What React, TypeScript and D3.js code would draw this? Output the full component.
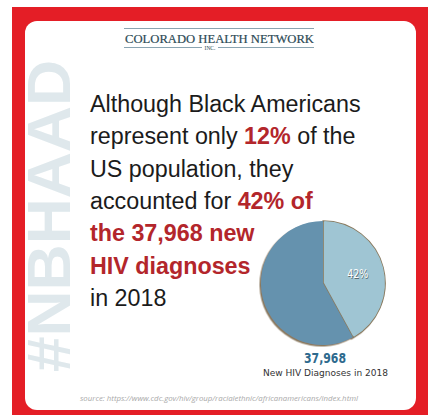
import * as d3 from 'd3';
import { useEffect, useRef } from 'react';

// pie data
const sliceNames = ['Black Americans', 'Everyone else'];
const sliceShares = [42, 58];
const totalDiagnoses = '37,968';
const totalCaption = 'New HIV Diagnoses in 2018';

// headline, one array per line; emphasised runs are red + bold
const headlineLines = [
  [{ t: 'Although Black Americans', em: false }],
  [
    { t: 'represent only ', em: false },
    { t: '12%', em: true },
    { t: ' of the', em: false },
  ],
  [{ t: 'US population, they', em: false }],
  [
    { t: 'accounted for ', em: false },
    { t: '42% of', em: true },
  ],
  [{ t: 'the 37,968 new', em: true }],
  [{ t: 'HIV diagnoses', em: true }],
  [{ t: 'in 2018', em: false }],
];

const watermark = '#NBHAAD';
const logoName = 'COLORADO HEALTH NETWORK';
const logoSub = 'INC.';
const sourceNote = 'source: https://www.cdc.gov/hiv/group/racialethnic/africanamericans/index.html';

const W = 433;
const H = 417;
const RED = '#e41e26';
const TEXT_RED = '#b3262b';
const sliceColors = ['#9fc5d3', '#6592ae'];

export default function App() {
  const ref = useRef<SVGSVGElement>(null);

  useEffect(() => {
    const svg = d3.select(ref.current);
    svg.selectAll('*').remove();

    const defs = svg.append('defs');
    defs
      .append('filter')
      .attr('id', 'pieShadow')
      .attr('x', '-20%')
      .attr('y', '-20%')
      .attr('width', '140%')
      .attr('height', '140%')
      .append('feDropShadow')
      .attr('dx', -1.5)
      .attr('dy', 1.5)
      .attr('stdDeviation', 0.6)
      .attr('flood-color', '#7d6c50')
      .attr('flood-opacity', 0.9);
    defs
      .append('clipPath')
      .attr('id', 'cardClip')
      .append('rect')
      .attr('x', 25)
      .attr('y', 21)
      .attr('width', 391)
      .attr('height', 389)
      .attr('rx', 12);

    // frame + card
    svg.append('rect').attr('width', W).attr('height', H).attr('fill', '#fff');
    svg.append('rect').attr('x', 12).attr('y', 7).attr('width', 416).attr('height', 408).attr('fill', RED);
    svg
      .append('rect')
      .attr('x', 25)
      .attr('y', 21)
      .attr('width', 391)
      .attr('height', 389)
      .attr('rx', 12)
      .attr('fill', '#fff');

    // vertical watermark
    svg
      .append('g')
      .attr('clip-path', 'url(#cardClip)')
      .append('text')
      .attr('transform', 'translate(70,372) rotate(-90)')
      .attr('font-family', 'Liberation Sans, Arial, sans-serif')
      .attr('font-weight', 'bold')
      .attr('font-size', 62)
      .attr('fill', '#dfe8ec')
      .attr('textLength', 312)
      .attr('lengthAdjust', 'spacingAndGlyphs')
      .text(watermark);

    // logo
    const logo = svg.append('g').attr('stroke', '#8aa4b1').attr('stroke-width', 1);
    logo.append('line').attr('x1', 124).attr('x2', 314).attr('y1', 28.5).attr('y2', 28.5);
    logo.append('line').attr('x1', 124).attr('x2', 202).attr('y1', 47.5).attr('y2', 47.5);
    logo.append('line').attr('x1', 218).attr('x2', 314).attr('y1', 47.5).attr('y2', 47.5);
    svg
      .append('text')
      .attr('x', 125)
      .attr('y', 42.5)
      .attr('font-family', 'Liberation Serif, Times New Roman, serif')
      .attr('font-size', 12)
      .attr('fill', '#2c4a55')
      .attr('stroke', '#2c4a55')
      .attr('stroke-width', 0.2)
      .attr('textLength', 189)
      .attr('lengthAdjust', 'spacingAndGlyphs')
      .text(logoName);
    svg
      .append('text')
      .attr('x', 210)
      .attr('y', 50)
      .attr('text-anchor', 'middle')
      .attr('font-family', 'Liberation Serif, Times New Roman, serif')
      .attr('font-size', 5.5)
      .attr('fill', '#2c4a55')
      .text(logoSub);

    // headline
    const lineY = d3.scaleLinear().domain([0, headlineLines.length - 1]).range([112, 306]);
    const head = svg
      .append('g')
      .attr('font-family', 'Liberation Sans, Arial, sans-serif')
      .attr('font-size', 23.3);
    headlineLines.forEach((runs, i) => {
      const t = head.append('text').attr('x', 90).attr('y', lineY(i));
      runs.forEach((r) => {
        t.append('tspan')
          .attr('fill', r.em ? TEXT_RED : '#1b1b1b')
          .attr('font-weight', r.em ? 'bold' : 'normal')
          .text(r.t);
      });
    });

    // pie
    const cx = 323;
    const cy = 283;
    const r = 62;
    const pie = d3
      .pie<number>()
      .sort(null)
      .value((d) => d);
    const arcs = pie(sliceShares);
    const arc = d3.arc<d3.PieArcDatum<number>>().innerRadius(0).outerRadius(r);
    const labelArc = d3.arc<d3.PieArcDatum<number>>().innerRadius(r * 0.58).outerRadius(r * 0.58);

    const pg = svg.append('g').attr('transform', `translate(${cx},${cy})`);
    pg.append('g')
      .attr('filter', 'url(#pieShadow)')
      .selectAll('path')
      .data(arcs)
      .join('path')
      .attr('d', arc)
      .attr('fill', (d, i) => sliceColors[i])
      .attr('stroke', '#8a7b60')
      .attr('stroke-width', (d, i) => (i === 0 ? 1.6 : 0))
      .attr('stroke-linejoin', 'round')
      .append('title')
      .text((d, i) => `${sliceNames[i]}: ${d.data}%`);
    // redraw the light slice's outer rim clean so only the radial edges look shaded
    pg.append('path')
      .attr('d', d3.arc()({ innerRadius: r - 1.5, outerRadius: r, startAngle: arcs[0].startAngle + 0.02, endAngle: arcs[0].endAngle - 0.02 }))
      .attr('fill', sliceColors[0]);

    const lp = labelArc.centroid(arcs[0]);
    const label = (dx: number, fill: string) =>
      pg
        .append('text')
        .attr('x', lp[0] + dx)
        .attr('y', lp[1] + dx)
        .attr('text-anchor', 'middle')
        .attr('dominant-baseline', 'central')
        .attr('font-family', 'DejaVu Sans Condensed, DejaVu Sans, sans-serif')
        .attr('font-size', 11.5)
        .attr('fill', fill)
        .attr('textLength', 21)
        .attr('lengthAdjust', 'spacingAndGlyphs')
        .text(`${sliceShares[0]}%`);
    label(0.6, '#5d6d72');
    label(0, '#ffffff');

    // total under pie
    svg
      .append('text')
      .attr('x', 325)
      .attr('y', 363)
      .attr('text-anchor', 'middle')
      .attr('font-family', 'DejaVu Sans Condensed, DejaVu Sans, sans-serif')
      .attr('font-weight', 'bold')
      .attr('font-size', 13.5)
      .attr('fill', '#2e6a8e')
      .attr('textLength', 42)
      .attr('lengthAdjust', 'spacingAndGlyphs')
      .text(totalDiagnoses);
    svg
      .append('text')
      .attr('x', 325.5)
      .attr('y', 376)
      .attr('text-anchor', 'middle')
      .attr('font-family', 'DejaVu Sans Condensed, DejaVu Sans, sans-serif')
      .attr('font-size', 9.5)
      .attr('fill', '#333')
      .attr('textLength', 125)
      .attr('lengthAdjust', 'spacingAndGlyphs')
      .text(totalCaption);

    // source
    svg
      .append('text')
      .attr('x', 80)
      .attr('y', 401)
      .attr('font-family', 'Open Sans, sans-serif')
      .attr('font-style', 'italic')
      .attr('font-size', 8)
      .attr('fill', '#a9a9a9')
      .attr('textLength', 278)
      .attr('lengthAdjust', 'spacingAndGlyphs')
      .text(sourceNote);
  }, []);

  return (
    <svg
      ref={ref}
      width={W}
      height={H}
      style={{ position: 'absolute', left: 0, top: 0, display: 'block' }}
    />
  );
}
